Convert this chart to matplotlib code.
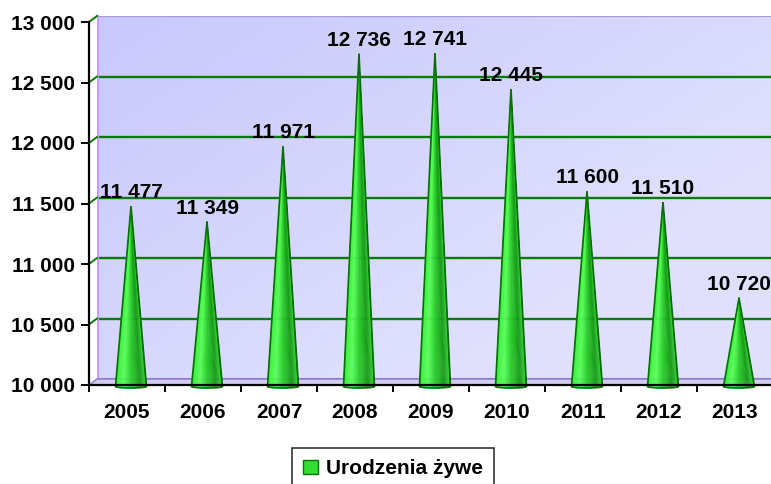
import numpy as np
import matplotlib
matplotlib.use("Agg")
import matplotlib.pyplot as plt
from matplotlib.patches import Polygon, Patch
from matplotlib.colors import LinearSegmentedColormap, to_rgb

years = ["2005", "2006", "2007", "2008", "2009", "2010", "2011", "2012", "2013"]
births = [11477, 11349, 11971, 12736, 12741, 12445, 11600, 11510, 10720]
y_ticks = [10000, 10500, 11000, 11500, 12000, 12500, 13000]
series_name = "Urodzenia żywe"

plt.rcParams['font.family'] = ['Liberation Sans', 'DejaVu Sans']
plt.rcParams['font.weight'] = 'bold'
FS = 15

W, H = 771, 484
fig = plt.figure(figsize=(W / 100, H / 100), dpi=100)

ymin, ymax = 10000, 13000
n = len(years)
ax_l, ax_b, ax_w, ax_h = 89, 385, 684, 363   # pixel positions of front axes
dpx, dpy = 8, 6                               # 3D depth offset in pixels

wall = fig.add_axes([(ax_l + dpx) / W, (H - ax_b + dpy) / H, ax_w / W, ax_h / H], zorder=0)
ax = fig.add_axes([ax_l / W, (H - ax_b) / H, ax_w / W, ax_h / H], zorder=1)

# ---- back wall ----
wall.set_xlim(-0.5, n - 0.5)
wall.set_ylim(ymin, ymax)
gx, gy = np.meshgrid(np.linspace(0, 1, 200), np.linspace(0, 1, 200))
t = np.clip(1.4 * (gx * 0.55 + gy * 0.45), 0, 1)
c0 = np.array(to_rgb("#c8c8fc"))
c1 = np.array(to_rgb("#e0e0fe"))
img = c0[None, None, :] * (1 - t[..., None]) + c1[None, None, :] * t[..., None]
wall.imshow(img, extent=[-0.5, n - 0.5, ymin, ymax], origin='upper', aspect='auto', zorder=0)
for v in y_ticks[1:-1]:
    wall.axhline(v, color="#0a7a0a", lw=1.7, zorder=1)
wall.axhline(ymax, color="#a898dc", lw=1.6, zorder=1)
wall.axhline(ymin, color="#9a80d0", lw=1.5, zorder=1)
for s in ["top", "right", "bottom"]:
    wall.spines[s].set_visible(False)
wall.spines["left"].set_color("#cc99ff")
wall.spines["left"].set_linewidth(2.2)
wall.set_xticks([])
wall.set_yticks([])

# ---- front axes ----
ax.set_facecolor("none")
ax.set_xlim(-0.5, n - 0.5)
ax.set_ylim(ymin, ymax)
ddx = dpx / ax_w * n
ddy = dpy / ax_h * (ymax - ymin)

# floor
floor = Polygon([(-0.5, ymin), (n - 0.5, ymin), (n - 0.5 + ddx, ymin + ddy), (-0.5 + ddx, ymin + ddy)],
                closed=True, facecolor="#d2ccf2", edgecolor="#8c78c8", lw=1.0, clip_on=False, zorder=0.5)
ax.add_patch(floor)
# left side wall
side = Polygon([(-0.5, ymin), (-0.5 + ddx, ymin + ddy), (-0.5 + ddx, ymax + ddy), (-0.5, ymax)],
               closed=True, facecolor="white", edgecolor="none", clip_on=False, zorder=0.4)
ax.add_patch(side)
for v in y_ticks[1:]:
    ax.plot([-0.5, -0.5 + ddx], [v, v + ddy], color="#0a7a0a", lw=1.4, clip_on=False, zorder=0.6)

# cones
cmap = LinearSegmentedColormap.from_list("cone", [
    (0.0, "#1fb81f"), (0.15, "#3ff03f"), (0.35, "#55ff55"), (0.5, "#2fd02f"),
    (0.7, "#139a13"), (0.88, "#3acc3a"), (1.0, "#0a800a")])
ox = 4 / ax_w * n
half_w = 15.5 / ax_w * n
eh = 1.5 / ax_h * (ymax - ymin)
base_y = ymin - 1.5 / ax_h * (ymax - ymin)
th = np.linspace(np.pi, 2 * np.pi, 41)
for i, v in enumerate(births):
    cx = i + ox
    bx = cx + half_w * np.cos(th)
    by = base_y + eh * np.sin(th)
    for k in range(len(th) - 1):
        tt = (k + 0.5) / (len(th) - 1)
        poly = Polygon([(cx, v), (bx[k], by[k]), (bx[k + 1], by[k + 1])], closed=True,
                       facecolor=cmap(tt), edgecolor=cmap(tt), lw=0.3, clip_on=False, zorder=2)
        ax.add_patch(poly)
    outline = Polygon(list(zip(bx, by)) + [(cx, v)], closed=True, facecolor="none",
                      edgecolor="#067006", lw=1.2, clip_on=False, zorder=2.2)
    ax.add_patch(outline)
    ax.annotate(f"{v:,}".replace(",", " "), (cx, v), xytext=(0, 3), textcoords="offset points",
                ha="center", va="bottom", fontsize=FS, fontweight="bold", color="black", zorder=3)

# spines and ticks
for s in ["top", "right"]:
    ax.spines[s].set_visible(False)
for s in ["left", "bottom"]:
    ax.spines[s].set_color("black")
    ax.spines[s].set_linewidth(1.6)
ax.set_yticks(y_ticks)
ax.set_yticklabels([f"{v:,}".replace(",", " ") for v in y_ticks], fontsize=FS, fontweight="bold")
ax.tick_params(axis="y", length=6, width=1.4, pad=4)
ax.set_xticks(np.arange(-0.5, n, 1.0))
ax.set_xticklabels([])
ax.tick_params(axis="x", which="major", length=5, width=1.4)
ax.set_xticks(np.arange(n), minor=True)
ax.set_xticklabels(years, minor=True, fontsize=FS, fontweight="bold")
ax.tick_params(axis="x", which="minor", length=0, pad=13)

# legend
handle = Patch(facecolor="#33dd33", edgecolor="#0a700a", lw=1.0)
leg = fig.legend([handle], [series_name], loc="upper center", bbox_to_anchor=(393 / W, 1 - 448 / H),
                 frameon=True, fancybox=False, edgecolor="black",
                 prop={"weight": "bold", "size": FS}, handlelength=0.7, handleheight=0.7,
                 handletextpad=0.4, borderpad=0.55, borderaxespad=0)
leg.get_frame().set_linewidth(1.2)

fig.savefig("out.png", dpi=100)
